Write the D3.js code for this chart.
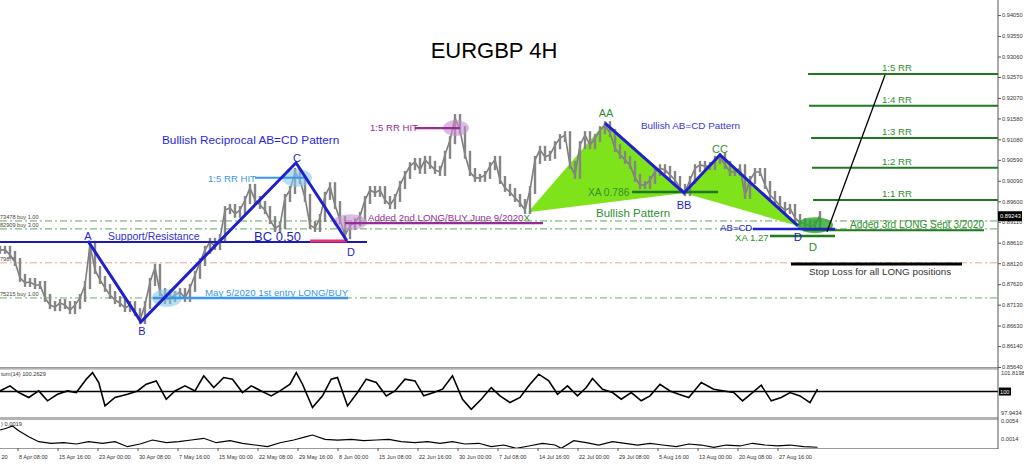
<!DOCTYPE html>
<html><head><meta charset="utf-8">
<script src="https://cdn.jsdelivr.net/npm/d3@7"></script>
<style>
html,body{margin:0;padding:0;background:#fff;}
svg{display:block;font-family:"Liberation Sans",Arial,sans-serif;}
</style></head><body>
<svg id="c" width="1024" height="464"></svg>
<script>
// ---------------- DATA ----------------
const closeStep = 4; // bars between samples
const closes = [0.8844,0.8844,0.8832,0.8815,0.8777,0.8765,0.8767,0.8760,0.8760,0.8729,
 0.8712,0.8707,0.8717,0.8712,0.8700,0.8712,0.8729,0.8760,0.8856,0.8796,
 0.8772,0.8753,0.8736,0.8724,0.8717,0.8705,0.8712,0.8695,0.8676,0.8712,
 0.8767,0.8801,0.8743,0.8724,0.8729,0.8736,0.8743,0.8729,0.8753,0.8784,
 0.8815,0.8844,0.8863,0.8853,0.8872,0.8939,0.8944,0.8930,0.8939,0.8963,
 0.8992,0.8963,0.8951,0.8939,0.8915,0.8896,0.8903,0.8968,0.8987,0.9030,
 0.9011,0.8968,0.8903,0.8896,0.8920,0.8973,0.8996,0.8951,0.8915,0.8879,
 0.8901,0.8910,0.8925,0.8963,0.8987,0.8980,0.8987,0.8963,0.8951,0.8968,
 0.8999,0.9023,0.9044,0.9054,0.9035,0.9059,0.9047,0.9035,0.9030,0.9071,
 0.9106,0.9159,0.9130,0.9071,0.9030,0.9016,0.9016,0.9023,0.9044,0.9059,
 0.9011,0.8992,0.8982,0.8968,0.8956,0.8939,0.8987,0.9059,0.9083,0.9066,
 0.9071,0.9094,0.9111,0.9118,0.9047,0.9023,0.9094,0.9118,0.9094,0.9111,
 0.9130,0.9142,0.9123,0.9087,0.9071,0.9059,0.9047,0.9016,0.8999,0.8999,
 0.9011,0.9030,0.9039,0.9035,0.9023,0.9011,0.8992,0.8982,0.9011,0.9039,
 0.9047,0.9044,0.9044,0.9059,0.9066,0.9047,0.9030,0.9030,0.9039,0.8975,
 0.9011,0.9030,0.9030,0.8999,0.8975,0.8963,0.8949,0.8939,0.8944,0.8920,
 0.8910,0.8906,0.8901,0.8903,0.8927];
const lastPrice = 0.89243;

const momBars = [0,8,15,23,31,38,46,54,61,69,74,79,84,92,102,110,117,125,133,140,
 148,156,163,171,179,186,194,201,209,217,224,232,237,242,250,258,265,270,278,286,
 293,301,309,316,324,332,339,347,354,362,370,377,385,393,400,408,416,423,431,439,
 446,454,462,469,474,482,490,497,505,513,520,528,536,543,551,561,571,579,587,594,
 602,609,617,625,632,640,648,654];
const momVals = [100.05,100.46,99.92,99.52,100.05,99.25,99.78,100.05,99.92,101.00,
 101.53,100.73,98.84,99.52,99.78,100.05,100.59,100.86,99.38,100.05,
 100.46,100.05,101.27,100.32,101.13,101.00,99.92,100.46,100.05,99.65,
 100.05,100.59,101.53,100.59,98.71,99.65,101.00,101.13,98.84,99.92,
 101.00,100.73,99.65,100.05,101.00,100.86,99.65,99.92,100.19,101.27,
 99.38,98.57,99.38,100.32,99.65,99.11,99.52,100.46,101.40,100.86,
 99.78,100.46,99.65,100.32,101.05,100.19,99.92,99.38,99.92,99.25,
 99.65,100.59,100.05,99.78,99.52,100.73,100.19,100.05,99.92,99.25,
 99.92,100.51,99.25,99.52,99.92,99.65,99.11,100.19];
const momRange = [97.9434, 101.8198];
const momCaption = "tum(14) 100.2629";

const atrBars = [0,5,10,15,23,31,41,51,61,71,82,92,102,112,122,133,143,153,163,173,
 184,194,204,214,224,235,245,250,260,270,281,291,301,311,321,332,342,352,362,372,
 383,393,403,413,423,434,444,449,459,469,479,490,500,510,520,530,541,551,561,571,
 581,592,602,612,622,632,643,654];
const atrVals = [0.00388,0.00412,0.00444,0.00379,0.00296,0.00227,0.00205,0.00213,0.00195,0.00227,
 0.00205,0.00227,0.00158,0.00195,0.0025,0.00213,0.00227,0.0025,0.00274,0.00213,
 0.00241,0.00205,0.00181,0.00158,0.00213,0.0025,0.00296,0.00319,0.0026,0.0025,
 0.0026,0.00241,0.0025,0.0026,0.00227,0.00213,0.00227,0.00205,0.00227,0.00195,
 0.00205,0.00158,0.00181,0.00136,0.00168,0.00205,0.00181,0.00136,0.00241,0.00213,
 0.00181,0.00227,0.00205,0.00181,0.00205,0.00181,0.00158,0.00195,0.00181,0.0015,
 0.00181,0.00168,0.00205,0.00181,0.00168,0.00181,0.00158,0.0015];
const atrRange = [0.0014, 0.0054];
const atrCaption = ") 0.0019";

const priceTicks = [0.94050,0.93550,0.93060,0.92570,0.92070,0.91580,0.91080,0.90590,0.90090,
 0.89600,0.89110,0.88610,0.88120,0.87620,0.87130,0.86630,0.86140,0.85640];
const timeTickBars = [0,14,46,78,110,142,174,206,238,270,302,334,366,398,430,462,494,526,558,590,622];
const timeTickLabels = ["20","8 Apr 08:00","15 Apr 16:00","23 Apr 00:00","30 Apr 08:00","7 May 16:00",
 "15 May 00:00","22 May 08:00","29 May 16:00","8 Jun 00:00","15 Jun 08:00","22 Jun 16:00","30 Jun 00:00",
 "7 Jul 08:00","14 Jul 16:00","22 Jul 00:00","29 Jul 08:00","5 Aug 16:00","13 Aug 00:00","20 Aug 08:00","27 Aug 16:00"];

// order lines (full width dash-dot) and their tags
const orderLevels = [0.8913, 0.8894, 0.8813, 0.8729];
const orderTags = ["73478 buy 1.00", "82909 buy 3.00", "79878", "75215 buy 1.00"];

// pattern points [bar, price]
const reciprocalABCD = [[70.4,0.8865],[112.8,0.8672],[236.8,0.9052],[277.6,0.8865]];
const bullABCD = [[484,0.9147],[547.2,0.8980],[576,0.9071],[638.4,0.8901]];
const triXAB = [[422.4,0.8934],[484,0.9147],[547.2,0.8980]];
const triBCD = [[547.2,0.8980],[576,0.9071],[638.4,0.8901]];

// horizontal segments: [fromBar, toBar, price]
const supportSeg = [0, 293.6, 0.8863];
const bcSeg = [248, 277.6, 0.8865];
const rrHitBlueSeg = [204, 245.6, 0.9016];
const firstEntrySeg = [122.4, 278.4, 0.8729];
const secondEntrySeg = [276, 434.4, 0.8908];
const rrHitPurpleSeg = [332, 368, 0.9135];
const xa786Seg = [505.6, 574.4, 0.8982];
const abcdSeg = [602.4, 668, 0.8894];
const xa127Seg = [616, 668, 0.8877];
const rrLevels = [0.9264, 0.9188, 0.9111, 0.9040, 0.8963];
const rrStarts = [646.4, 647.2, 648.8, 649.6, 650.4];
const rrLabels = ["1:5 RR","1:4 RR","1:3 RR","1:2 RR","1:1 RR"];
const rrEnd = 798.4;
const entrySeg = [642.4, 787.2, 0.8891];
const stopSeg = [632.8, 769.6, 0.8810];
const projLine = [[661.6, 0.8887],[708, 0.9262]];

// highlight ellipses centers [bar, price]
const blueMarks = [[237.6, 0.9016],[133.6, 0.8729]];
const purpleMarks = [[280, 0.8910],[364.8, 0.9135]];
const greenMark = [652, 0.8903];

// ---------------- SCALES ----------------
const plotRight = 998;
const x = d3.scaleLinear().domain([0, 800]).range([0, 1000]);
const y = d3.scaleLinear().domain([0.8564, 0.9441]).range([367, 0]);
const yMom = d3.scaleLinear().domain(momRange).range([417, 369]);
const yAtr = d3.scaleLinear().domain(atrRange).range([448, 419]);

const C = {navy:"#1a1ab4", blue:"#1f1fcc", txtBlue:"#3131d8", light:"#3a97ea", purple:"#992b99",
  green:"#2f8f2f", dkgreen:"#1f7a1f", lime:"#7fe31c", pink:"#e8327a", gray:"#7d7d7d"};

const svg = d3.select("#c");
const defs = svg.append("defs");
defs.append("clipPath").attr("id","cm").append("rect").attr("x",0).attr("y",0).attr("width",plotRight).attr("height",367);
defs.append("clipPath").attr("id","cs").append("rect").attr("x",0).attr("y",369).attr("width",plotRight).attr("height",80);

svg.append("rect").attr("width",1024).attr("height",464).attr("fill","#fff");
const main = svg.append("g").attr("clip-path","url(#cm)");

// order dash-dot lines
const orderColors = ["#5aa85a","#5aa85a","#e9a58c","#6aaf6a"];
main.append("g").selectAll("line").data(orderLevels).join("line")
  .attr("x1",0).attr("x2",plotRight).attr("y1",d=>y(d)).attr("y2",d=>y(d))
  .attr("stroke",(d,i)=>orderColors[i]).attr("stroke-width",1).attr("stroke-dasharray","7,3,2,3");
main.append("g").selectAll("text").data(orderLevels).join("text")
  .attr("x",0).attr("y",d=>y(d)-2).text((d,i)=>orderTags[i])
  .attr("font-size",5.6).attr("fill","#444");

// green pattern triangles
const pl = d => d.map(p=>[x(p[0]),y(p[1])].join(",")).join(" ");
main.append("polygon").attr("points",pl(triXAB)).attr("fill",C.lime);
main.append("polygon").attr("points",pl(triBCD)).attr("fill",C.lime);

// price bars
const pts = closes.map((c,i)=>({b:i*closeStep, c, p: i ? closes[i-1] : c}));
main.append("path").datum(pts)
  .attr("d", d3.line().x(d=>x(d.b)).y(d=>y(d.c)))
  .attr("fill","none").attr("stroke",C.gray).attr("stroke-width",1.6);
main.append("g").selectAll("line").data(pts).join("line")
  .attr("x1",d=>x(d.b)).attr("x2",d=>x(d.b))
  .attr("y1",d=>y(Math.max(d.c,d.p))-4).attr("y2",d=>y(Math.min(d.c,d.p))+4)
  .attr("stroke","#858585").attr("stroke-width",2.4);

// ellipses
main.append("g").selectAll("ellipse").data(blueMarks).join("ellipse")
  .attr("cx",d=>x(d[0])).attr("cy",d=>y(d[1])).attr("rx",15).attr("ry",9)
  .attr("fill","#86c6e6").attr("opacity",0.6);
main.append("g").selectAll("ellipse").data(purpleMarks).join("ellipse")
  .attr("cx",d=>x(d[0])).attr("cy",d=>y(d[1])).attr("rx",(d,i)=>i?13:17).attr("ry",8)
  .attr("fill","#c58fcf").attr("opacity",0.6);
main.append("ellipse").attr("cx",x(greenMark[0])).attr("cy",y(greenMark[1])).attr("rx",18).attr("ry",8)
  .attr("fill","#2aa52a").attr("opacity",0.8);

// horizontal segments
function hseg(s, color, w){
  main.append("line").attr("x1",x(s[0])).attr("x2",x(s[1])).attr("y1",y(s[2])).attr("y2",y(s[2]))
    .attr("stroke",color).attr("stroke-width",w);
}
hseg(supportSeg, C.navy, 2);
hseg(bcSeg, C.pink, 3);
hseg(rrHitBlueSeg, C.light, 2);
hseg(firstEntrySeg, C.light, 2.5);
hseg(secondEntrySeg, C.purple, 2.2);
hseg(rrHitPurpleSeg, C.purple, 2.2);
hseg(xa786Seg, C.dkgreen, 2.5);
hseg(xa127Seg, C.dkgreen, 2.5);
rrLevels.forEach((p,i)=>hseg([rrStarts[i], rrEnd, p], C.dkgreen, 2));
hseg(entrySeg, C.dkgreen, 2);
hseg(abcdSeg, C.blue, 2.5);
hseg(stopSeg, "#000", 3);

// pattern polylines
const ln = d3.line().x(d=>x(d[0])).y(d=>y(d[1]));
main.append("path").attr("d",ln(reciprocalABCD)).attr("fill","none").attr("stroke",C.blue).attr("stroke-width",3).attr("stroke-linejoin","miter");
main.append("path").attr("d",ln(bullABCD)).attr("fill","none").attr("stroke",C.blue).attr("stroke-width",3);
main.append("path").attr("d",ln(projLine)).attr("fill","none").attr("stroke","#000").attr("stroke-width",1.3);

// texts: [text, bar, price, color, size, anchor]
const texts = [
 ["Support/Resistance", 86.4, 0.8877, C.txtBlue, 10.5, "start"],
 ["BC 0.50", 203.2, 0.8877, C.blue, 13, "start"],
 ["A", 70.4, 0.8877, C.blue, 11, "middle"],
 ["B", 113.6, 0.8650, C.blue, 11, "middle"],
 ["C", 237.6, 0.9063, C.blue, 11, "middle"],
 ["D", 280.8, 0.8839, C.blue, 11, "middle"],
 ["Bullish Reciprocal AB=CD Pattern", 129.6, 0.9106, "#2727e2", 11.8, "start"],
 ["1:5 RR HIT", 166.4, 0.9013, C.light, 9.6, "start"],
 ["May 5/2020 1st entry LONG/BUY", 164, 0.8741, C.light, 9.7, "start"],
 ["1:5 RR HIT", 296, 0.9135, C.purple, 9.6, "start"],
 ["AA", 484.8, 0.9171, C.green, 11, "middle"],
 ["BB", 547.2, 0.8951, C.blue, 11, "middle"],
 ["CC", 576, 0.9085, C.green, 11, "middle"],
 ["Bullish AB=CD Pattern", 512.8, 0.9140, "#3636e0", 9.9, "start"],
 ["XA 0.786", 470.4, 0.8982, C.green, 10.2, "start"],
 ["Bullish Pattern", 476.8, 0.8932, C.green, 11.5, "start"],
 ["AB=CD", 576, 0.8897, C.blue, 9.6, "start"],
 ["XA 1.27", 588, 0.8874, C.green, 9.6, "start"],
 ["D", 638.4, 0.8875, C.blue, 11.5, "middle"],
 ["D", 650.4, 0.8851, C.green, 11.5, "middle"],
 ["Added 3rd LONG Sept 3/2020", 680, 0.8905, C.green, 10, "start"],
 ["Stop Loss for all LONG positions", 647.2, 0.8793, "#333", 9.8, "start"]
];
rrLevels.forEach((p,i)=>texts.push([rrLabels[i], 705.6, p+0.0015, C.green, 9.6, "start"]));
main.append("g").selectAll("text").data(texts).join("text")
  .attr("x",d=>x(d[1])).attr("y",d=>y(d[2])).attr("dy","0.35em")
  .attr("fill",d=>d[3]).attr("font-size",d=>d[4]).attr("text-anchor",d=>d[5]).text(d=>d[0]);
const t2 = main.append("text").attr("x",x(294.4)).attr("y",y(0.8920)).attr("dy","0.35em").attr("font-size",9.7);
t2.append("tspan").attr("fill",C.purple).text("Added 2nd LONG/BUY June 9/2020");
t2.append("tspan").attr("fill",C.green).text("X");

// title
svg.append("text").attr("x",494).attr("y",58).attr("text-anchor","middle")
  .attr("font-size",22).attr("fill","#000").text("EURGBP 4H");

// ---------------- PANELS ----------------
const sub = svg.append("g").attr("clip-path","url(#cs)");
sub.append("line").attr("x1",0).attr("x2",plotRight).attr("y1",yMom(100)).attr("y2",yMom(100))
  .attr("stroke","#000").attr("stroke-width",1.4);
sub.append("path").attr("d", d3.line().x((d,i)=>x(momBars[i])).y(d=>yMom(d))(momVals))
  .attr("fill","none").attr("stroke","#000").attr("stroke-width",1.6);
sub.append("path").attr("d", d3.line().x((d,i)=>x(atrBars[i])).y(d=>yAtr(d))(atrVals))
  .attr("fill","none").attr("stroke","#000").attr("stroke-width",1.2);

// separators
[367.5, 368.8, 417.8, 419.2].forEach(v=>svg.append("line").attr("x1",0).attr("x2",plotRight).attr("y1",v).attr("y2",v)
  .attr("stroke","#9a9a9a").attr("stroke-width",1.2));
svg.append("line").attr("x1",0).attr("x2",plotRight).attr("y1",448.5).attr("y2",448.5).attr("stroke","#9a9a9a").attr("stroke-width",1);
svg.append("line").attr("x1",plotRight).attr("x2",plotRight).attr("y1",0).attr("y2",449).attr("stroke","#555").attr("stroke-width",1);

svg.append("text").attr("x",1).attr("y",yMom(momRange[1])+7).attr("font-size",5.7).attr("fill","#333").text(momCaption);
svg.append("text").attr("x",1).attr("y",yAtr(atrRange[1])+7).attr("font-size",5.7).attr("fill","#333").text(atrCaption);

// right price axis
const ax = svg.append("g").attr("transform",`translate(${plotRight},0)`)
  .call(d3.axisRight(y).tickValues(priceTicks).tickSize(3).tickFormat(d3.format(".5f")));
ax.select(".domain").remove();
ax.selectAll("line").attr("stroke","#555");
ax.selectAll("text").attr("font-size",5.7).attr("fill","#333").attr("x",4).attr("font-family","Liberation Sans, Arial");
// current price tag
const lp = y(lastPrice);
svg.append("rect").attr("x",plotRight).attr("y",lp-5).attr("width",24).attr("height",10).attr("fill","#000");
svg.append("text").attr("x",plotRight+2).attr("y",lp).attr("dy","0.35em").attr("font-size",5.8).attr("fill","#fff").text(lastPrice.toFixed(5));

// sub-window scales
svg.append("text").attr("x",plotRight+3).attr("y",yMom(momRange[1])+6).attr("font-size",5.7).attr("fill","#333").text(momRange[1].toFixed(4));
svg.append("text").attr("x",plotRight+3).attr("y",yMom(momRange[0])-2).attr("font-size",5.7).attr("fill","#333").text(momRange[0].toFixed(4));
svg.append("rect").attr("x",plotRight+1).attr("y",yMom(100)-4).attr("width",12).attr("height",8).attr("fill","#000");
svg.append("text").attr("x",plotRight+2).attr("y",yMom(100)).attr("dy","0.35em").attr("font-size",5.7).attr("fill","#fff").text("100");
svg.append("text").attr("x",plotRight+3).attr("y",yAtr(atrRange[1])+4).attr("font-size",5.7).attr("fill","#333").text(atrRange[1].toFixed(4));
svg.append("text").attr("x",plotRight+3).attr("y",yAtr(atrRange[0])-7).attr("font-size",5.7).attr("fill","#333").text(atrRange[0].toFixed(4));

// bottom time axis
const tx = svg.append("g").attr("transform","translate(0,448)")
  .call(d3.axisBottom(x).tickValues(timeTickBars).tickSize(3).tickFormat((d,i)=>timeTickLabels[i]));
tx.select(".domain").remove();
tx.selectAll("line").attr("stroke","#555").attr("opacity",(d,i)=>i?1:0);
tx.selectAll("text").attr("font-size",5.6).attr("fill","#333").attr("text-anchor","start").attr("x",1).attr("dy","0.9em")
  .attr("font-family","Liberation Sans, Arial");
</script>
</body></html>
